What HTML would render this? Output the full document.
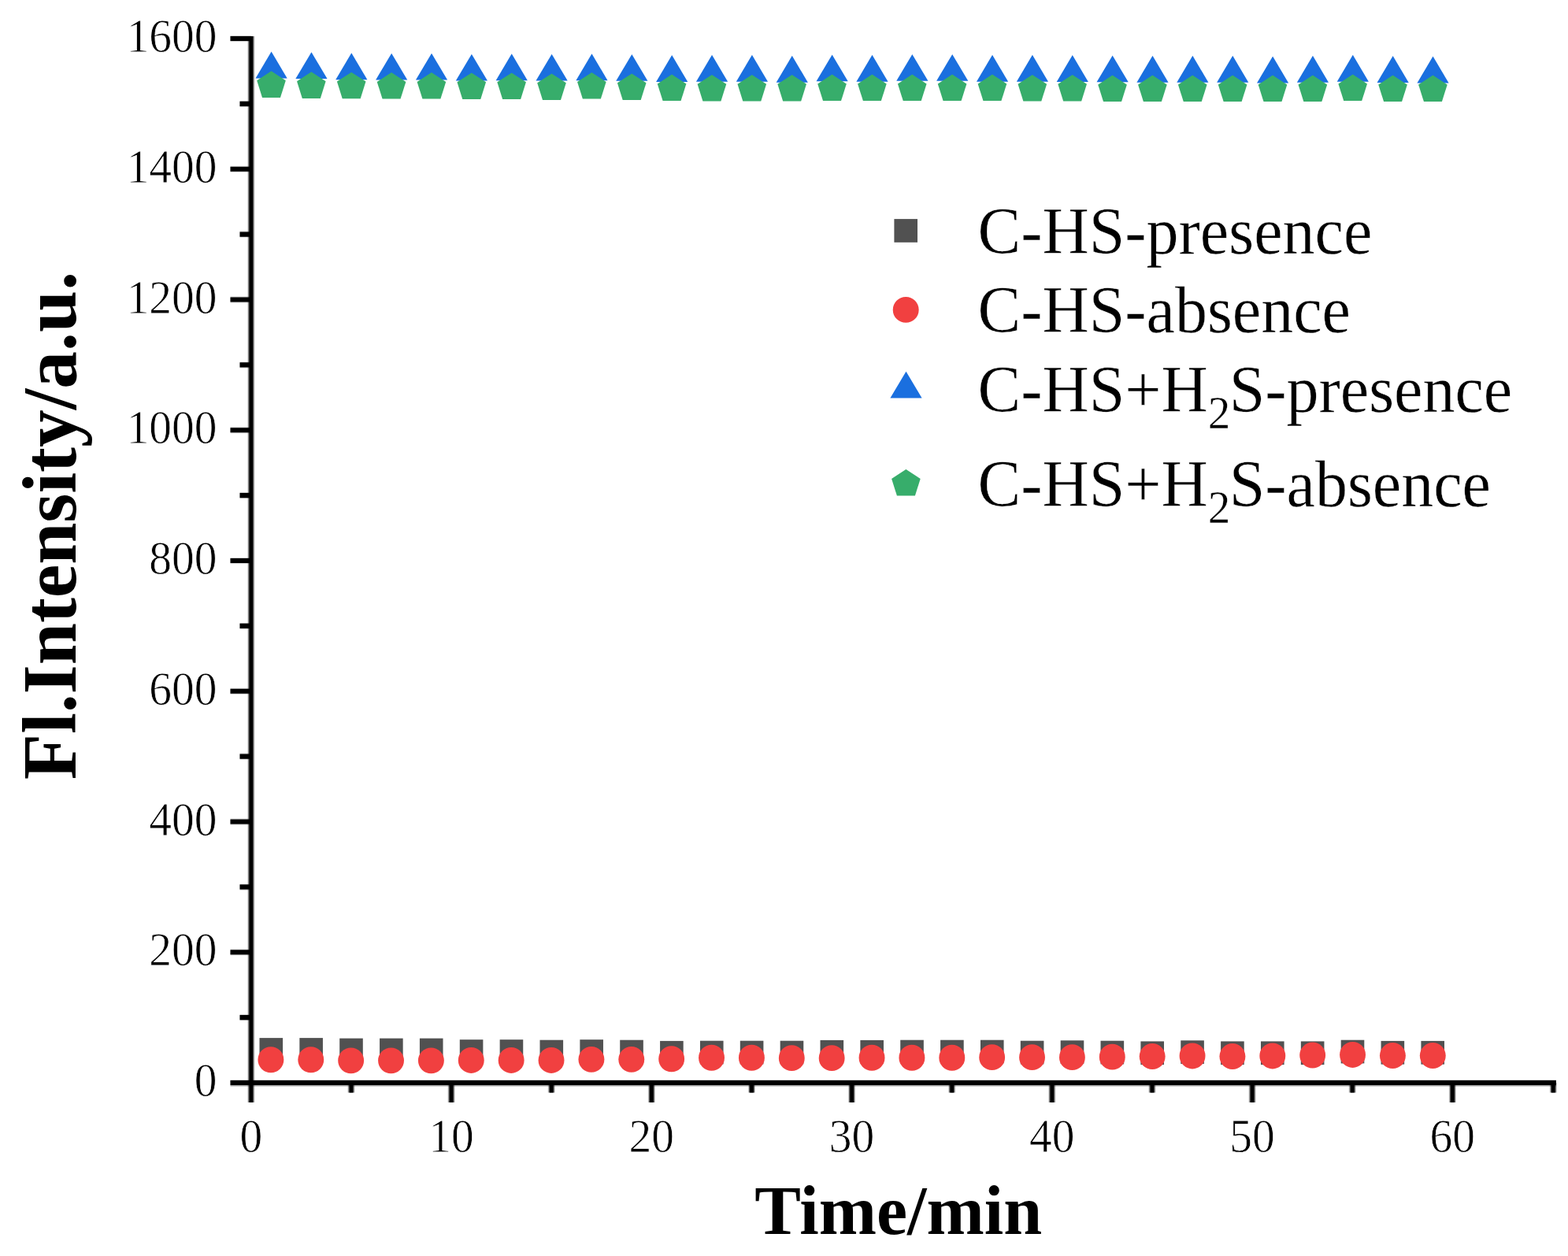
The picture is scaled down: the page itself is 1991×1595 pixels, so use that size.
<!DOCTYPE html>
<html lang="en"><head><meta charset="utf-8"><title>Fl.Intensity vs Time</title>
<style>html,body{margin:0;padding:0;background:#fff}svg{display:block}text{font-family:"Liberation Serif","Times New Roman",Times,serif;fill:#000}.tk{font-size:57.5px;stroke:#fff;stroke-width:0.7px}.lg{font-size:82px;stroke:#fff;stroke-width:0.4px}.ttx{font-size:88px;font-weight:bold}.tty{font-size:95.6px;font-weight:bold}</style></head><body>
<svg width="1991" height="1595" viewBox="0 0 1991 1595" role="img" aria-label="Fl.Intensity/a.u. versus Time/min">
<rect width="1991" height="1595" fill="#fff"/>
<g>
<g fill="#515151"><rect x="329.48" y="1318.1" width="29.6" height="29.7"/><rect x="380.34" y="1318.1" width="29.6" height="29.7"/><rect x="431.2" y="1318.6" width="29.6" height="29.7"/><rect x="482.06" y="1318.6" width="29.6" height="29.7"/><rect x="532.92" y="1318.6" width="29.6" height="29.7"/><rect x="583.78" y="1320.2" width="29.6" height="29.7"/><rect x="634.64" y="1320.2" width="29.6" height="29.7"/><rect x="685.5" y="1320.7" width="29.6" height="29.7"/><rect x="736.36" y="1320.2" width="29.6" height="29.7"/><rect x="787.22" y="1320.7" width="29.6" height="29.7"/><rect x="838.08" y="1321.9" width="29.6" height="29.7"/><rect x="888.94" y="1321.7" width="29.6" height="29.7"/><rect x="939.8" y="1321.7" width="29.6" height="29.7"/><rect x="990.66" y="1321.7" width="29.6" height="29.7"/><rect x="1041.52" y="1320.9" width="29.6" height="29.7"/><rect x="1092.38" y="1320.9" width="29.6" height="29.7"/><rect x="1143.24" y="1320.7" width="29.6" height="29.7"/><rect x="1194.1" y="1320.7" width="29.6" height="29.7"/><rect x="1244.96" y="1320.7" width="29.6" height="29.7"/><rect x="1295.82" y="1321.7" width="29.6" height="29.7"/><rect x="1346.68" y="1321.3" width="29.6" height="29.7"/><rect x="1397.54" y="1321.7" width="29.6" height="29.7"/><rect x="1448.4" y="1322.4" width="29.6" height="29.7"/><rect x="1499.26" y="1321.3" width="29.6" height="29.7"/><rect x="1550.12" y="1322.4" width="29.6" height="29.7"/><rect x="1600.98" y="1322.4" width="29.6" height="29.7"/><rect x="1651.84" y="1322.4" width="29.6" height="29.7"/><rect x="1702.7" y="1320.7" width="29.6" height="29.7"/><rect x="1753.56" y="1321.9" width="29.6" height="29.7"/><rect x="1804.42" y="1321.9" width="29.6" height="29.7"/></g>
<g fill="#f14040"><circle cx="343.9" cy="1345.75" r="16.45"/><circle cx="394.77" cy="1345.75" r="16.45"/><circle cx="445.65" cy="1346.85" r="16.45"/><circle cx="496.53" cy="1346.85" r="16.45"/><circle cx="547.4" cy="1346.85" r="16.45"/><circle cx="598.28" cy="1346.45" r="16.45"/><circle cx="649.15" cy="1346.45" r="16.45"/><circle cx="700.03" cy="1346.45" r="16.45"/><circle cx="750.91" cy="1345.35" r="16.45"/><circle cx="801.78" cy="1345.35" r="16.45"/><circle cx="852.66" cy="1344.75" r="16.45"/><circle cx="903.53" cy="1343.25" r="16.45"/><circle cx="954.41" cy="1343.25" r="16.45"/><circle cx="1005.29" cy="1343.65" r="16.45"/><circle cx="1056.16" cy="1343.65" r="16.45"/><circle cx="1107.04" cy="1343.25" r="16.45"/><circle cx="1157.91" cy="1343.25" r="16.45"/><circle cx="1208.79" cy="1343.25" r="16.45"/><circle cx="1259.67" cy="1342.65" r="16.45"/><circle cx="1310.54" cy="1342.65" r="16.45"/><circle cx="1361.42" cy="1342.65" r="16.45"/><circle cx="1412.29" cy="1342.15" r="16.45"/><circle cx="1463.17" cy="1341.55" r="16.45"/><circle cx="1514.05" cy="1340.95" r="16.45"/><circle cx="1564.92" cy="1341.55" r="16.45"/><circle cx="1615.8" cy="1340.95" r="16.45"/><circle cx="1666.67" cy="1340.05" r="16.45"/><circle cx="1717.55" cy="1339.45" r="16.45"/><circle cx="1768.43" cy="1340.55" r="16.45"/><circle cx="1819.3" cy="1340.55" r="16.45"/></g>
<g fill="#1a6fdf"><polygon points="344.58,65.6 364.68,99.5 324.48,99.5"/><polygon points="395.44,66.2 415.54,100.1 375.34,100.1"/><polygon points="446.3,67.3 466.4,101.2 426.2,101.2"/><polygon points="497.16,67.7 517.26,101.6 477.06,101.6"/><polygon points="548.02,67.7 568.12,101.6 527.92,101.6"/><polygon points="598.88,68.7 618.98,102.6 578.78,102.6"/><polygon points="649.74,68.3 669.84,102.2 629.64,102.2"/><polygon points="700.6,68.7 720.7,102.6 680.5,102.6"/><polygon points="751.46,68.3 771.56,102.2 731.36,102.2"/><polygon points="802.32,68.9 822.42,102.8 782.22,102.8"/><polygon points="853.18,70 873.28,103.9 833.08,103.9"/><polygon points="904.04,69.8 924.14,103.7 883.94,103.7"/><polygon points="954.9,69.8 975,103.7 934.8,103.7"/><polygon points="1005.76,70.8 1025.86,104.7 985.66,104.7"/><polygon points="1056.62,69.4 1076.72,103.3 1036.52,103.3"/><polygon points="1107.48,69.8 1127.58,103.7 1087.38,103.7"/><polygon points="1158.34,68.9 1178.44,102.8 1138.24,102.8"/><polygon points="1209.2,68.9 1229.3,102.8 1189.1,102.8"/><polygon points="1260.06,69.8 1280.16,103.7 1239.96,103.7"/><polygon points="1310.92,69.8 1331.02,103.7 1290.82,103.7"/><polygon points="1361.78,70 1381.88,103.9 1341.68,103.9"/><polygon points="1412.64,70.4 1432.74,104.3 1392.54,104.3"/><polygon points="1463.5,70.8 1483.6,104.7 1443.4,104.7"/><polygon points="1514.36,70.8 1534.46,104.7 1494.26,104.7"/><polygon points="1565.22,70.8 1585.32,104.7 1545.12,104.7"/><polygon points="1616.08,71.5 1636.18,105.4 1595.98,105.4"/><polygon points="1666.94,70.8 1687.04,104.7 1646.84,104.7"/><polygon points="1717.8,69.8 1737.9,103.7 1697.7,103.7"/><polygon points="1768.66,71.1 1788.76,105 1748.56,105"/><polygon points="1819.52,71.5 1839.62,105.4 1799.42,105.4"/></g>
<g fill="#37ad6b"><polygon points="344.48,90.3 362.78,102.2 355.98,123.9 332.98,123.9 326.18,102.2"/><polygon points="395.34,91.3 413.64,103.2 406.84,124.9 383.84,124.9 377.04,103.2"/><polygon points="446.2,91.7 464.5,103.6 457.7,125.3 434.7,125.3 427.9,103.6"/><polygon points="497.06,92 515.36,103.9 508.56,125.6 485.56,125.6 478.76,103.9"/><polygon points="547.92,92 566.22,103.9 559.42,125.6 536.42,125.6 529.62,103.9"/><polygon points="598.78,92.4 617.08,104.3 610.28,126 587.28,126 580.48,104.3"/><polygon points="649.64,92.4 667.94,104.3 661.14,126 638.14,126 631.34,104.3"/><polygon points="700.5,93.4 718.8,105.3 712,127 689,127 682.2,105.3"/><polygon points="751.36,92 769.66,103.9 762.86,125.6 739.86,125.6 733.06,103.9"/><polygon points="802.22,93.4 820.52,105.3 813.72,127 790.72,127 783.92,105.3"/><polygon points="853.08,94.5 871.38,106.4 864.58,128.1 841.58,128.1 834.78,106.4"/><polygon points="903.94,94.9 922.24,106.8 915.44,128.5 892.44,128.5 885.64,106.8"/><polygon points="954.8,94.9 973.1,106.8 966.3,128.5 943.3,128.5 936.5,106.8"/><polygon points="1005.66,94.9 1023.96,106.8 1017.16,128.5 994.16,128.5 987.36,106.8"/><polygon points="1056.52,94.5 1074.82,106.4 1068.02,128.1 1045.02,128.1 1038.22,106.4"/><polygon points="1107.38,94.5 1125.68,106.4 1118.88,128.1 1095.88,128.1 1089.08,106.4"/><polygon points="1158.24,94.5 1176.54,106.4 1169.74,128.1 1146.74,128.1 1139.94,106.4"/><polygon points="1209.1,94.5 1227.4,106.4 1220.6,128.1 1197.6,128.1 1190.8,106.4"/><polygon points="1259.96,94.5 1278.26,106.4 1271.46,128.1 1248.46,128.1 1241.66,106.4"/><polygon points="1310.82,94.9 1329.12,106.8 1322.32,128.5 1299.32,128.5 1292.52,106.8"/><polygon points="1361.68,94.9 1379.98,106.8 1373.18,128.5 1350.18,128.5 1343.38,106.8"/><polygon points="1412.54,95.5 1430.84,107.4 1424.04,129.1 1401.04,129.1 1394.24,107.4"/><polygon points="1463.4,95.5 1481.7,107.4 1474.9,129.1 1451.9,129.1 1445.1,107.4"/><polygon points="1514.26,95.5 1532.56,107.4 1525.76,129.1 1502.76,129.1 1495.96,107.4"/><polygon points="1565.12,95.5 1583.42,107.4 1576.62,129.1 1553.62,129.1 1546.82,107.4"/><polygon points="1615.98,95.5 1634.28,107.4 1627.48,129.1 1604.48,129.1 1597.68,107.4"/><polygon points="1666.84,95.5 1685.14,107.4 1678.34,129.1 1655.34,129.1 1648.54,107.4"/><polygon points="1717.7,94.5 1736,106.4 1729.2,128.1 1706.2,128.1 1699.4,106.4"/><polygon points="1768.56,95.5 1786.86,107.4 1780.06,129.1 1757.06,129.1 1750.26,107.4"/><polygon points="1819.42,95.5 1837.72,107.4 1830.92,129.1 1807.92,129.1 1801.12,107.4"/></g>
<g fill="none" stroke="#000">
<path d="M318.85 45.9 V1399.9 M445.98 1375 V1387.5 M573.1 1375 V1399.9 M700.23 1375 V1387.5 M827.35 1375 V1399.9 M954.48 1375 V1387.5 M1081.6 1375 V1399.9 M1208.72 1375 V1387.5 M1335.85 1375 V1399.9 M1462.97 1375 V1387.5 M1590.1 1375 V1399.9 M1717.22 1375 V1387.5 M1844.35 1375 V1399.9 M1972.3 1375 V1387.5" stroke-width="9" stroke-opacity="0.2"/>
<path d="M318.85 45.9 V1399.9 M445.98 1375 V1387.5 M573.1 1375 V1399.9 M700.23 1375 V1387.5 M827.35 1375 V1399.9 M954.48 1375 V1387.5 M1081.6 1375 V1399.9 M1208.72 1375 V1387.5 M1335.85 1375 V1399.9 M1462.97 1375 V1387.5 M1590.1 1375 V1399.9 M1717.22 1375 V1387.5 M1844.35 1375 V1399.9 M1972.3 1375 V1387.5" stroke-width="7" stroke-opacity="0.55"/>
<path d="M318.85 45.9 V1399.9 M445.98 1375 V1387.5 M573.1 1375 V1399.9 M700.23 1375 V1387.5 M827.35 1375 V1399.9 M954.48 1375 V1387.5 M1081.6 1375 V1399.9 M1208.72 1375 V1387.5 M1335.85 1375 V1399.9 M1462.97 1375 V1387.5 M1590.1 1375 V1399.9 M1717.22 1375 V1387.5 M1844.35 1375 V1399.9 M1972.3 1375 V1387.5" stroke-width="4.6" stroke-opacity="1"/>
<path d="M292.5 1378.9 H1975.9" stroke-width="2" stroke-opacity="0.2"/>
<path d="M292.5 1375 H1975.9 M304.5 1292.12 H318.85 M292.5 1209.25 H318.85 M304.5 1126.38 H318.85 M292.5 1043.5 H318.85 M304.5 960.62 H318.85 M292.5 877.75 H318.85 M304.5 794.88 H318.85 M292.5 712 H318.85 M304.5 629.12 H318.85 M292.5 546.25 H318.85 M304.5 463.38 H318.85 M292.5 380.5 H318.85 M304.5 297.62 H318.85 M292.5 214.75 H318.85 M304.5 131.88 H318.85 M292.5 49 H318.85" stroke-width="8" stroke-opacity="0.18"/>
<path d="M292.5 1375 H1975.9 M304.5 1292.12 H318.85 M292.5 1209.25 H318.85 M304.5 1126.38 H318.85 M292.5 1043.5 H318.85 M304.5 960.62 H318.85 M292.5 877.75 H318.85 M304.5 794.88 H318.85 M292.5 712 H318.85 M304.5 629.12 H318.85 M292.5 546.25 H318.85 M304.5 463.38 H318.85 M292.5 380.5 H318.85 M304.5 297.62 H318.85 M292.5 214.75 H318.85 M304.5 131.88 H318.85 M292.5 49 H318.85" stroke-width="6.2" stroke-opacity="1"/>
</g>
<g class="tk" text-anchor="end">
<text transform="translate(275.6 1392) scale(1 1.08)">0</text>
<text transform="translate(275.6 1226.25) scale(1 1.08)">200</text>
<text transform="translate(275.6 1060.5) scale(1 1.08)">400</text>
<text transform="translate(275.6 894.75) scale(1 1.08)">600</text>
<text transform="translate(275.6 729) scale(1 1.08)">800</text>
<text transform="translate(275.6 563.25) scale(1 1.08)">1000</text>
<text transform="translate(275.6 397.5) scale(1 1.08)">1200</text>
<text transform="translate(275.6 231.75) scale(1 1.08)">1400</text>
<text transform="translate(275.6 66) scale(1 1.08)">1600</text>
</g>
<g class="tk" text-anchor="middle">
<text transform="translate(318.85 1462.6) scale(1 1.08)">0</text>
<text transform="translate(573.1 1462.6) scale(1 1.08)">10</text>
<text transform="translate(827.35 1462.6) scale(1 1.08)">20</text>
<text transform="translate(1081.6 1462.6) scale(1 1.08)">30</text>
<text transform="translate(1335.85 1462.6) scale(1 1.08)">40</text>
<text transform="translate(1590.1 1462.6) scale(1 1.08)">50</text>
<text transform="translate(1844.35 1462.6) scale(1 1.08)">60</text>
</g>
<text transform="translate(1140.65 1567.4) scale(1 1.01)" class="ttx" text-anchor="middle">Time/min</text>
<text class="tty" text-anchor="middle" transform="translate(96.3 667.6) rotate(-90) scale(1 1.015)">Fl.Intensity/a.u.</text>
<rect fill="#515151" x="1135.4" y="278.1" width="29.6" height="29.7"/>
<circle fill="#f14040" cx="1150.2" cy="393.4" r="16.45"/>
<g fill="#1a6fdf"><polygon points="1150.5,471.7 1170.6,505.6 1130.4,505.6"/></g>
<g fill="#37ad6b"><polygon points="1150.4,596 1168.7,607.9 1161.9,629.6 1138.9,629.6 1132.1,607.9"/></g>
<g class="lg">
<text transform="translate(1241.5 321.8) scale(1 1.03)">C-HS-presence</text>
<text transform="translate(1241.5 422.3) scale(1 1.03)">C-HS-absence</text>
<text transform="translate(1241.5 523) scale(1 1.03)">C-HS+H<tspan dy="20.8" font-size="57px">2</tspan><tspan dy="-20.8" dx="-1.6">S-presence</tspan></text>
<text transform="translate(1241.5 642.8) scale(1 1.03)">C-HS+H<tspan dy="20.8" font-size="57px">2</tspan><tspan dy="-20.8" dx="-1.6">S-absence</tspan></text>
</g>
</g>
</svg></body></html>
